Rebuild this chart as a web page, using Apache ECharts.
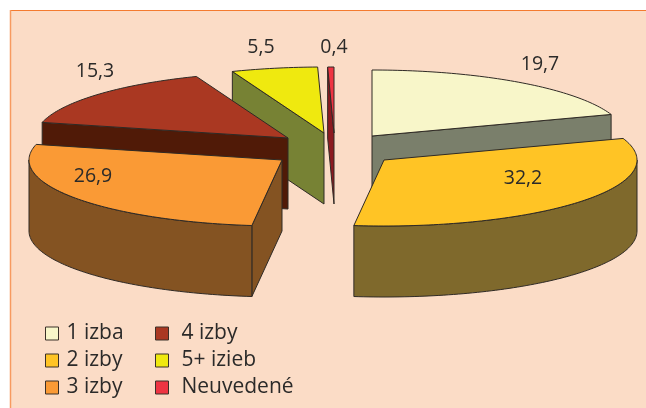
<!DOCTYPE html>
<html><head><meta charset="utf-8">
<style>html,body{margin:0;padding:0;background:#fff}#c{width:646px;height:408px}</style>
<script src="https://cdn.jsdelivr.net/npm/echarts@6/dist/echarts.min.js"></script>
</head><body><div id="c"></div>
<script>
const categories = ['1 izba','2 izby','3 izby','4 izby','5+ izieb','Neuvedené'];
const values = [19.7,32.2,26.9,15.3,5.5,0.4];
const topColors = ['#f8f6c9','#ffc425','#fa9a35','#aa3822','#efe90f','#ee3442'];
const wallColors = ['#7a7f6b','#7f692c','#845322','#501a07','#778234','#8c1a20'];
const apexes = [[372,136],[384,160],[282,160],[288,138],[324,133],[334,133]];
const labelSpots = [[540,64],[523,178],[93,176],[95,71],[261,47],[334,47]];
const paintOrder = [5,4,0,3,1,2];
const RX = 253, RY = 66, DEPTH = 71, STROKE = '#2f2a25', INK = '#2b2a29';
const FONT = '"Open Sans", sans-serif';
const total = values.reduce((a,b)=>a+b,0);
const starts = []; let run = 0;
values.forEach(v=>{starts.push(run); run += v;});

function pt(ap, t, d){ return [ap[0]+RX*Math.sin(t), ap[1]-RY*Math.cos(t)+(d||0)]; }
function wallFaces(ap, t, mid){
  const e = pt(ap,t), m = pt(ap,mid);
  if (Math.abs(e[0]-ap[0]) < 0.5) return false;
  const yOnLine = ap[1] + (e[1]-ap[1])*(m[0]-ap[0])/(e[0]-ap[0]);
  return m[1] < yOnLine;
}
function arc(ap, a, b, d){
  const n = Math.max(2, Math.ceil((b-a)/0.02)), out = [];
  for (let i=0;i<=n;i++) out.push(pt(ap, a+(b-a)*i/n, d));
  return out;
}
function poly(points, fill, z2){
  return {type:'polygon', z2:z2, shape:{points:points},
    style:{fill:fill, stroke:STROKE, lineWidth:1, lineJoin:'round'}};
}
function renderSlice(i){
  return function(params, api){
    const v = api.value(0);
    const a = starts[i]/total*2*Math.PI, b = (starts[i]+v)/total*2*Math.PI, mid=(a+b)/2;
    const ap = apexes[i], kids = [];
    [a,b].forEach(t=>{
      if (wallFaces(ap,t,mid)){
        const e = pt(ap,t);
        kids.push(poly([ap,e,[e[0],e[1]+DEPTH],[ap[0],ap[1]+DEPTH]], wallColors[i], 1));
      }
    });
    const fa = Math.max(a, Math.PI/2), fb = Math.min(b, 1.5*Math.PI);
    if (fb > fa){
      kids.push(poly(arc(ap,fa,fb,0).concat(arc(ap,fa,fb,DEPTH).reverse()), wallColors[i], 2));
    }
    kids.push(poly([ap].concat(arc(ap,a,b,0)), topColors[i], 3));
    kids.push({type:'text', z2:4, style:{
      text:String(v).replace('.',','), x:labelSpots[i][0], y:labelSpots[i][1],
      fill:INK, font:'19.5px '+FONT, align:'center', verticalAlign:'middle'}});
    return {type:'group', children:kids};
  };
}
const series = paintOrder.map(i=>({
  type:'custom', name:categories[i], coordinateSystem:'none',
  itemStyle:{color:topColors[i]}, data:[[values[i]]],
  renderItem:renderSlice(i), silent:true, animation:false
}));
function legendBlock(names,left,gap){
  return {data:names, orient:'vertical', left:left, top:320, itemWidth:13, itemHeight:13, itemGap:0,
    icon:'rect', selectedMode:false, padding:0,
    itemStyle:{borderColor:'#3a3028',borderWidth:1},
    textStyle:{color:INK,fontFamily:FONT,fontSize:21,lineHeight:27,padding:[0,0,0,gap]}};
}
const chart = echarts.init(document.getElementById('c'),null,{renderer:'canvas'});
chart.setOption({
  animation:false, backgroundColor:'#ffffff',
  graphic:[
    {type:'rect',z:-10,shape:{x:10,y:11,width:640,height:400},style:{fill:'#fbdcc6'}},
    {type:'line',z:-9,shape:{x1:10,y1:10.5,x2:646,y2:10.5},style:{stroke:'#f47b30',lineWidth:1}},
    {type:'line',z:-9,shape:{x1:10.5,y1:10,x2:10.5,y2:408},style:{stroke:'#f79a60',lineWidth:1.5}}
  ],
  legend:[legendBlock(categories.slice(0,3),45,3),legendBlock(categories.slice(3),155,8)],
  series:series
});
</script></body></html>
